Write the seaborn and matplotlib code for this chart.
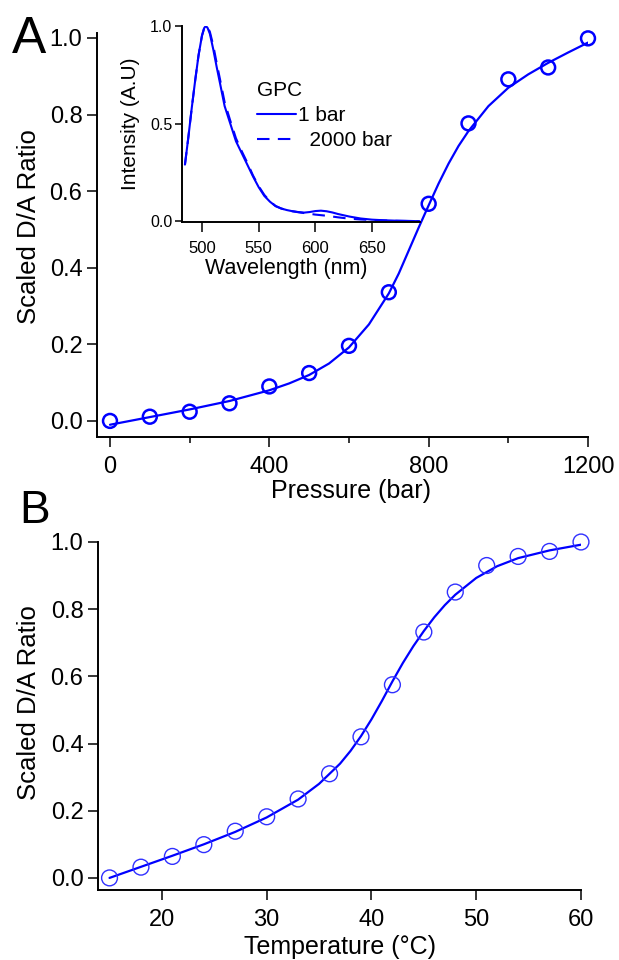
import numpy as np
import pandas as pd
import matplotlib
matplotlib.use("Agg")
import matplotlib.pyplot as plt
from matplotlib.ticker import FixedLocator
import seaborn as sns

# ---------------- data ----------------
pressure = [0, 100, 200, 300, 400, 500, 600, 700, 800, 900, 1000, 1100, 1200]
ratio_pressure = [0.000, 0.011, 0.024, 0.046, 0.090, 0.125, 0.196, 0.336, 0.567,
                  0.777, 0.892, 0.923, 0.999]

fitA_x = [0, 100, 200, 300, 400, 450, 500, 550, 600, 650, 700, 725, 750, 775,
          800, 825, 850, 875, 900, 950, 1000, 1050, 1100, 1150, 1200]
fitA_y = [-0.010, 0.010, 0.030, 0.052, 0.080, 0.098, 0.120, 0.150, 0.192, 0.252,
          0.333, 0.385, 0.445, 0.505, 0.563, 0.620, 0.672, 0.718, 0.757, 0.822,
          0.870, 0.905, 0.935, 0.962, 0.988]

temperature = [15, 18, 21, 24, 27, 30, 33, 36, 39, 42, 45, 48, 51, 54, 57, 60]
ratio_temp = [0.000, 0.032, 0.064, 0.099, 0.139, 0.182, 0.235, 0.310, 0.420, 0.575,
              0.732, 0.851, 0.930, 0.957, 0.972, 1.000]

fitB_x = [15, 18, 21, 24, 27, 30, 33, 35, 37, 38, 39, 40, 41, 42, 43, 44, 45, 46,
          47, 48, 50, 52, 54, 57, 60]
fitB_y = [0.000, 0.033, 0.066, 0.100, 0.137, 0.180, 0.233, 0.280, 0.340, 0.378,
          0.422, 0.472, 0.527, 0.585, 0.640, 0.690, 0.735, 0.776, 0.812, 0.843,
          0.893, 0.928, 0.952, 0.975, 0.992]

wl_1bar = [485, 488, 491, 494, 497, 500, 502, 503.5, 505, 507, 510, 513, 516, 520,
           525, 530, 535, 540, 545, 550, 555, 560, 565, 570, 575, 580, 585, 590,
           595, 600, 605, 610, 615, 620, 630, 640, 650, 660, 670, 680, 692]
int_1bar = [0.29, 0.43, 0.58, 0.72, 0.85, 0.95, 0.99, 1.00, 0.99, 0.96, 0.88, 0.79,
            0.705, 0.59, 0.50, 0.41, 0.35, 0.29, 0.23, 0.175, 0.13, 0.10, 0.077,
            0.065, 0.057, 0.051, 0.047, 0.044, 0.047, 0.052, 0.054, 0.051, 0.045,
            0.037, 0.024, 0.014, 0.008, 0.005, 0.003, 0.002, 0.000]

wl_2000bar = [485, 488, 491, 494, 497, 500, 502, 503.5, 505, 507, 510, 513, 516, 520,
              525, 530, 535, 540, 545, 550, 555, 560, 565, 570, 575, 580, 585, 590,
              595, 600, 605, 610, 620, 630, 640, 650, 660, 670, 680, 692]
int_2000bar = [0.29, 0.43, 0.58, 0.72, 0.85, 0.95, 0.99, 1.00, 0.995, 0.97, 0.90,
               0.81, 0.725, 0.61, 0.515, 0.425, 0.36, 0.30, 0.235, 0.18, 0.135,
               0.102, 0.078, 0.065, 0.057, 0.051, 0.046, 0.042, 0.038, 0.034, 0.031,
               0.028, 0.020, 0.013, 0.009, 0.006, 0.004, 0.002, 0.001, 0.000]

labels_A_x = [0, 400, 800, 1200]
labels_y = [0.0, 0.2, 0.4, 0.6, 0.8, 1.0]
labels_B_x = [20, 30, 40, 50, 60]
inset_x_ticks = [500, 550, 600, 650]
inset_y_ticks = [0.0, 0.5, 1.0]

# ---------------- style ----------------
sns.set_style("ticks")
plt.rcParams["font.family"] = ["Liberation Sans", "DejaVu Sans"]
plt.rcParams["axes.linewidth"] = 1.4
for k in ["text.color", "axes.labelcolor", "xtick.color", "ytick.color",
          "axes.edgecolor", "xtick.labelcolor", "ytick.labelcolor"]:
    plt.rcParams[k] = "black"

BLUE = "#0000ff"
W, H = 619, 960
fig = plt.figure(figsize=(W / 100, H / 100), dpi=100)


def px_axes(l, t, r, b):
    return fig.add_axes([l / W, 1 - b / H, (r - l) / W, (b - t) / H])


def style_axis(ax, fs_x, fs_y, lx, ly, padx, pady, w=1.1):
    sns.despine(ax=ax)
    ax.tick_params(axis="x", which="major", length=lx, width=w, labelsize=fs_x,
                   pad=padx, color="black", labelcolor="black", direction="out")
    ax.tick_params(axis="y", which="major", length=ly, width=w, labelsize=fs_y,
                   pad=pady, color="black", labelcolor="black", direction="out")
    for s in ax.spines.values():
        s.set_color("black")
        s.set_linewidth(1.4)


# ---------------- panel A ----------------
axA = px_axes(97, 33, 588, 437)
axA.set_facecolor("none")
sns.lineplot(x=fitA_x, y=fitA_y, ax=axA, color=BLUE, lw=1.6, sort=False,
             estimator=None, zorder=3)
sns.scatterplot(x=pressure, y=ratio_pressure, ax=axA, marker="o", s=100,
                facecolors="none", edgecolor=BLUE, linewidth=1.8, clip_on=False,
                zorder=4)
axA.set_xlim(-32.6, 1200)
axA.set_ylim(-0.042, 1.013)
axA.xaxis.set_major_locator(FixedLocator(labels_A_x))
axA.xaxis.set_minor_locator(FixedLocator([200, 600, 1000]))
axA.yaxis.set_major_locator(FixedLocator(labels_y))
axA.set_xticklabels([str(v) for v in labels_A_x])
axA.set_yticklabels([f"{v:.1f}" for v in labels_y])
style_axis(axA, 17, 17, 7.5, 7.5, 6.5, 3)
axA.tick_params(axis="x", which="minor", length=4, width=1.1, color="black")
axA.set_xlabel("Pressure (bar)", fontsize=18)
axA.set_ylabel("Scaled D/A Ratio", fontsize=18.5)
axA.xaxis.set_label_coords(0.517, -0.103)
axA.yaxis.label.set_verticalalignment("center")
axA.yaxis.set_label_coords(-0.138, 0.52)

# ---------------- inset ----------------
axI = px_axes(182, 26, 420, 222)
axI.set_facecolor("none")
sns.lineplot(x=wl_1bar, y=int_1bar, ax=axI, color=BLUE, lw=1.5, sort=False,
             estimator=None, label="1 bar")
sns.lineplot(x=wl_2000bar, y=int_2000bar, ax=axI, color=BLUE, lw=1.5, sort=False,
             estimator=None, ls=(0, (6, 4)), label="  2000 bar")
axI.set_xlim(482.4, 692.4)
axI.set_ylim(-0.004, 1.0)
axI.xaxis.set_major_locator(FixedLocator(inset_x_ticks))
axI.yaxis.set_major_locator(FixedLocator(inset_y_ticks))
axI.set_xticklabels([str(v) for v in inset_x_ticks])
axI.set_yticklabels([f"{v:.1f}" for v in inset_y_ticks])
style_axis(axI, 12, 11.5, 7, 5, 6.5, 2)
axI.set_xlabel("Wavelength (nm)", fontsize=15.5)
axI.set_ylabel("Intensity (A.U)", fontsize=15)
axI.xaxis.set_label_coords(0.439, -0.185)
axI.yaxis.label.set_verticalalignment("center")
axI.yaxis.set_label_coords(-0.217, 0.5)
leg = axI.legend(title="GPC", loc="upper left", frameon=False, fontsize=15,
                 title_fontsize=15, alignment="left", handlelength=1.85,
                 handletextpad=0.1, labelspacing=0.3, borderpad=0,
                 borderaxespad=0, bbox_to_anchor=(257 / W, 1 - 81 / H),
                 bbox_transform=fig.transFigure)

# ---------------- panel B ----------------
axB = px_axes(98, 542, 581, 890)
sns.lineplot(x=fitB_x, y=fitB_y, ax=axB, color=BLUE, lw=1.6, sort=False,
             estimator=None, zorder=3)
sns.scatterplot(x=temperature, y=ratio_temp, ax=axB, marker="o", s=130,
                facecolors="none", edgecolor="#3030ff", linewidth=1.0,
                clip_on=False, zorder=4)
axB.set_xlim(13.9, 60)
axB.set_ylim(-0.036, 1.0)
axB.xaxis.set_major_locator(FixedLocator(labels_B_x))
axB.yaxis.set_major_locator(FixedLocator(labels_y))
axB.set_xticklabels([str(v) for v in labels_B_x])
axB.set_yticklabels([f"{v:.1f}" for v in labels_y])
style_axis(axB, 17, 17, 7.5, 7.5, 6.5, 3)
axB.set_xlabel("Temperature (°C)", fontsize=18)
axB.set_ylabel("Scaled D/A Ratio", fontsize=18.5)
axB.xaxis.set_label_coords(0.501, -0.13)
axB.yaxis.label.set_verticalalignment("center")
axB.yaxis.set_label_coords(-0.1425, 0.539)

# panel letters
fig.text(12 / W, 1 - 53 / H, "A", fontsize=37, ha="left", va="baseline")
fig.text(19 / W, 1 - 523 / H, "B", fontsize=33, ha="left", va="baseline")

fig.savefig("out.png", dpi=100)
